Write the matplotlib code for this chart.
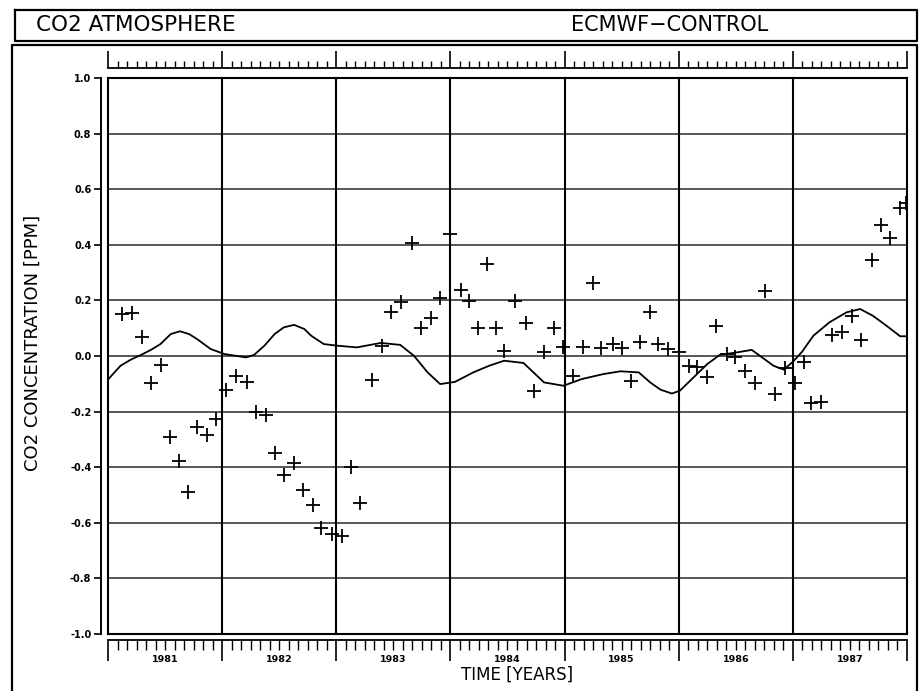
import numpy as np
import matplotlib
matplotlib.use("Agg")
import matplotlib.pyplot as plt

# dane
czas_pkt = [1981.12, 1981.21, 1981.30, 1981.38, 1981.46, 1981.54, 1981.62, 1981.70,
            1981.78, 1981.87, 1981.95, 1982.03, 1982.12, 1982.22, 1982.30, 1982.38,
            1982.46, 1982.54, 1982.63, 1982.71, 1982.80, 1982.87, 1982.96, 1983.05,
            1983.13, 1983.21, 1983.31, 1983.40, 1983.48, 1983.57, 1983.66, 1983.74,
            1983.83, 1983.91, 1984.00, 1984.09, 1984.16, 1984.24, 1984.32, 1984.40,
            1984.47, 1984.57, 1984.66, 1984.73, 1984.82, 1984.91, 1984.99, 1985.07,
            1985.16, 1985.25, 1985.32, 1985.42, 1985.50, 1985.58, 1985.66, 1985.75,
            1985.82, 1985.91, 1986.00, 1986.09, 1986.16, 1986.25, 1986.33, 1986.42,
            1986.49, 1986.58, 1986.67, 1986.76, 1986.84, 1986.93, 1987.02, 1987.10,
            1987.16, 1987.25, 1987.34, 1987.43, 1987.52, 1987.60, 1987.69, 1987.77,
            1987.85, 1987.94, 1987.99]
co2_pkt = [0.151, 0.154, 0.067, -0.097, -0.032, -0.293, -0.377, -0.491,
           -0.255, -0.285, -0.225, -0.122, -0.073, -0.093, -0.203, -0.213,
           -0.350, -0.429, -0.386, -0.483, -0.536, -0.617, -0.641, -0.647,
           -0.400, -0.527, -0.085, 0.037, 0.160, 0.196, 0.407, 0.100,
           0.138, 0.208, 0.440, 0.238, 0.199, 0.100, 0.332, 0.100,
           0.019, 0.199, 0.119, -0.127, 0.016, 0.100, 0.034, -0.071,
           0.031, 0.263, 0.028, 0.043, 0.028, -0.089, 0.052, 0.157,
           0.043, 0.025, 0.013, -0.035, -0.041, -0.077, 0.107, 0.007,
           -0.005, -0.053, -0.097, 0.235, -0.137, -0.044, -0.097, -0.021,
           -0.169, -0.167, 0.076, 0.085, 0.143, 0.059, 0.344, 0.470,
           0.424, 0.532, 0.550]

czas_kr = [1981.00, 1981.03, 1981.11, 1981.20, 1981.29, 1981.38, 1981.46, 1981.55,
           1981.63, 1981.71, 1981.78, 1981.90, 1982.02, 1982.21, 1982.28, 1982.37,
           1982.46, 1982.54, 1982.63, 1982.72, 1982.78, 1982.89, 1983.01, 1983.18,
           1983.39, 1983.56, 1983.68, 1983.80, 1983.91, 1984.04, 1984.20, 1984.34,
           1984.47, 1984.64, 1984.82, 1984.99, 1985.15, 1985.34, 1985.49, 1985.65,
           1985.75, 1985.84, 1985.94, 1986.01, 1986.13, 1986.25, 1986.36, 1986.51,
           1986.64, 1986.73, 1986.83, 1986.92, 1987.00, 1987.08, 1987.18, 1987.32,
           1987.47, 1987.59, 1987.70, 1987.82, 1987.94, 1988.00]
co2_kr = [-0.085, -0.071, -0.035, -0.013, 0.004, 0.023, 0.043, 0.079,
          0.089, 0.079, 0.061, 0.025, 0.007, -0.005, 0.004, 0.037,
          0.079, 0.103, 0.112, 0.097, 0.073, 0.043, 0.037, 0.031,
          0.047, 0.040, 0.001, -0.059, -0.101, -0.093, -0.059, -0.035,
          -0.017, -0.025, -0.095, -0.107, -0.083, -0.065, -0.055, -0.059,
          -0.095, -0.121, -0.135, -0.125, -0.077, -0.029, 0.004, 0.013,
          0.022, -0.005, -0.035, -0.049, -0.021, 0.015, 0.073, 0.121,
          0.157, 0.169, 0.145, 0.109, 0.071, 0.071]

lata = [1981, 1982, 1983, 1984, 1985, 1986, 1987]
y_ticki = [-1.0, -0.8, -0.6, -0.4, -0.2, 0.0, 0.2, 0.4, 0.6, 0.8, 1.0]

W, H = 921, 691

fig = plt.figure(figsize=(W / 100, H / 100), dpi=100)

# ramki w pikselach
tlo = fig.add_axes([0, 0, 1, 1])
tlo.set_xlim(0, W)
tlo.set_ylim(H, 0)
tlo.axis('off')
tlo.plot([15, 917, 917, 15, 15], [10, 10, 41, 41, 10], color='k', lw=1.6)
tlo.plot([12, 12, 917, 917], [H, 45, 45, H], color='k', lw=1.6)

x0, x1, y0, y1 = 108, 907, 78, 634
ax = fig.add_axes([x0 / W, 1 - y1 / H, (x1 - x0) / W, (y1 - y0) / H])
ax.set_xlim(1981, 1988)
ax.set_ylim(-1, 1)

for y in y_ticki:
    ax.axhline(y, color='#3a3a3a', lw=1.2, zorder=1)
for r in lata[1:]:
    ax.axvline(r, color='k', lw=1.5, zorder=1)
for s in ax.spines.values():
    s.set_linewidth(1.5)
ax.set_xticks([])
ax.set_yticks([])

ax.plot(czas_kr, co2_kr, color='k', lw=1.3, zorder=3)
ax.plot(czas_pkt, co2_pkt, ls='none', marker='+', ms=9.5, mew=1.3, color='k', zorder=4)

# os y z etykietami
osy = ax.secondary_yaxis(-7 / (x1 - x0))
osy.set_yticks(y_ticki)
osy.set_yticklabels(['%.1f' % v for v in y_ticki])
osy.tick_params(direction='out', length=5, width=1.2, pad=2, labelsize=7)
for t in osy.get_yticklabels():
    t.set_fontweight('bold')
osy.spines['left'].set_linewidth(1.4)

# paski z miesiacami u gory i u dolu
miesiace = np.arange(1981, 1988.001, 1 / 12)
gora = ax.secondary_xaxis(1 + 10 / (y1 - y0))
gora.set_xticks(lata + [1988])
gora.set_xticks(miesiace, minor=True)
gora.tick_params(which='major', direction='out', length=12, width=1.2, labeltop=False)
gora.tick_params(which='minor', direction='out', length=5, width=1.0)
gora.spines['top'].set_linewidth(1.3)

dol = ax.secondary_xaxis(-6 / (y1 - y0))
dol.set_xticks(lata + [1988])
dol.set_xticks(miesiace, minor=True)
dol.tick_params(which='major', direction='out', length=15, width=1.2, labelbottom=False)
dol.tick_params(which='minor', direction='out', length=7, width=1.0)
dol.spines['bottom'].set_linewidth(1.3)

for r in lata:
    ax.text(r + 0.5, -25 / (y1 - y0), str(r), transform=ax.get_xaxis_transform(),
            ha='center', va='center', fontsize=6.8, fontweight='bold')

fig.text(36 / W, 1 - 25 / H, 'CO2 ATMOSPHERE', ha='left', va='center', fontsize=15.5)
fig.text(670 / W, 1 - 25 / H, 'ECMWF\u2212CONTROL', ha='center', va='center', fontsize=15)
fig.text(517 / W, 1 - 675 / H, 'TIME [YEARS]', ha='center', va='center', fontsize=12)
fig.text(33 / W, 1 - 343 / H, 'CO2 CONCENTRATION [PPM]', ha='center', va='center',
         rotation=90, fontsize=13)

plt.savefig('out.png', dpi=100)
